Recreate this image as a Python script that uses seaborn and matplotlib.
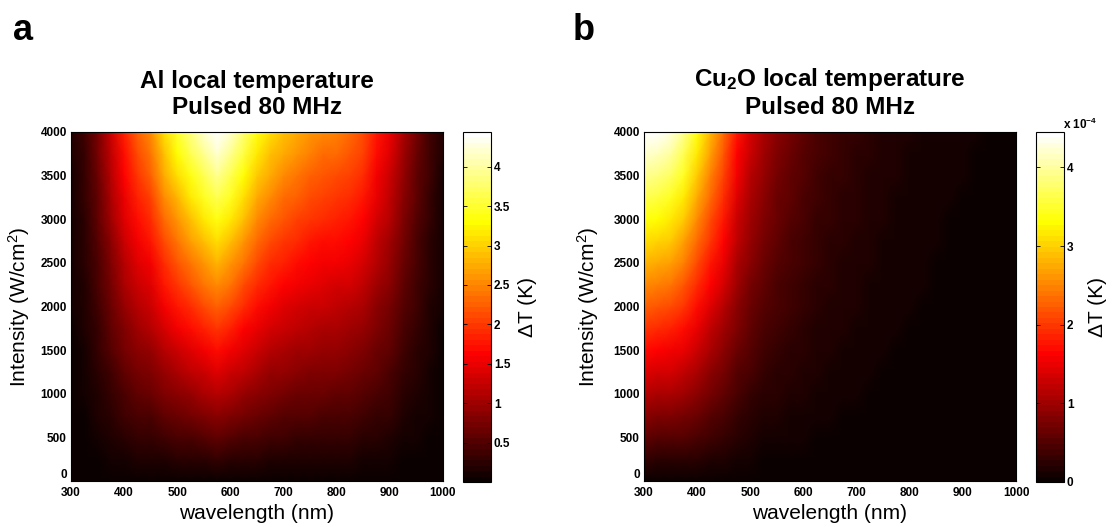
import numpy as np
import pandas as pd
import matplotlib
matplotlib.use("Agg")
import matplotlib.pyplot as plt
import seaborn as sns

# ---------------- data ----------------
wavelength_nm = [300, 325, 350, 375, 400, 425, 450, 475, 500, 525, 550, 575, 600,
                 625, 650, 675, 700, 725, 750, 775, 800, 825, 850, 875, 900, 925,
                 950, 975, 1000]
intensity_wcm2 = [0, 250, 500, 750, 1000, 1250, 1500, 1750, 2000, 2250, 2500,
                  2750, 3000, 3250, 3500, 3750, 4000]
# local temperature rise at the top intensity (4000 W/cm^2), K
al_dT_at_4000 = [0.15, 0.35, 0.75, 1.3, 1.85, 2.25, 2.55, 3.1, 3.5, 3.85, 4.2, 4.44,
                 4.2, 3.8, 3.35, 3.1, 2.9, 2.75, 2.6, 2.5, 2.45, 2.35, 2.15, 1.8,
                 1.5, 1.1, 0.7, 0.4, 0.15]
# Cu2O, in units of 1e-4 K
cu2o_dT_at_4000 = [4.45, 4.42, 4.25, 3.9, 3.35, 2.85, 2.35, 1.75, 1.35, 1.05, 0.85,
                   0.7, 0.56, 0.46, 0.39, 0.33, 0.28, 0.23, 0.2, 0.17, 0.145, 0.125,
                   0.105, 0.092, 0.081, 0.072, 0.064, 0.058, 0.053]
x_tick_nm = [300, 400, 500, 600, 700, 800, 900, 1000]
y_tick_int = [0, 500, 1000, 1500, 2000, 2500, 3000, 3500, 4000]
al_cbar_ticks = [0.5, 1, 1.5, 2, 2.5, 3, 3.5, 4]
al_cbar_labels = ["0.5", "1", "1.5", "2", "2.5", "3", "3.5", "4"]
cu2o_cbar_ticks = [0, 1, 2, 3, 4]
cu2o_cbar_labels = ["0", "1", "2", "3", "4"]
al_range = (0.0, 4.44)
cu2o_range = (0.0, 4.45)
titles = ["Al local temperature\nPulsed 80 MHz",
          r"Cu$_{\mathbf{2}}$O local temperature" + "\nPulsed 80 MHz"]
panel_letters = ["a", "b"]

# ---------------- style ----------------
plt.rcParams["font.family"] = ["Liberation Sans", "DejaVu Sans"]
plt.rcParams["mathtext.fontset"] = "custom"
plt.rcParams["mathtext.rm"] = "Liberation Sans"
plt.rcParams["mathtext.bf"] = "Liberation Sans:bold"
plt.rcParams["mathtext.it"] = "Liberation Sans:italic"

W, H = 1115, 527
fig = plt.figure(figsize=(W / 100, H / 100), dpi=100)


def fbox(x0, y0, x1, y1):
    return [x0 / W, 1 - y1 / H, (x1 - x0) / W, (y1 - y0) / H]


cmap = matplotlib.colormaps["hot"].resampled(64)
inten = np.asarray(intensity_wcm2, dtype=float)


def panel(ax_box, cax_box, profile, vrange, title, cticks, clabels, ylab_x, clab_x):
    ax = fig.add_axes(fbox(*ax_box))
    cax = fig.add_axes(fbox(*cax_box))
    df = pd.DataFrame(np.outer(inten / inten.max(), np.asarray(profile)),
                      index=intensity_wcm2, columns=wavelength_nm)
    sns.heatmap(df, ax=ax, cbar_ax=cax, cmap=cmap, vmin=vrange[0], vmax=vrange[1],
                xticklabels=False, yticklabels=False, shading="gouraud")
    nr, nc = df.shape
    ax.set_xlim(0, nc - 1)
    ax.set_ylim(0, nr - 1)
    ax.set_xticks([wavelength_nm.index(v) for v in x_tick_nm])
    ax.set_xticklabels([str(v) for v in x_tick_nm], fontweight="bold")
    ax.set_yticks([intensity_wcm2.index(v) for v in y_tick_int])
    ax.set_yticklabels([str(v) for v in y_tick_int], fontweight="bold")
    ax.tick_params(length=0, labelsize=8.5)
    ax.tick_params(axis="x", pad=4)
    ax.tick_params(axis="y", pad=3)
    ax.get_yticklabels()[0].set_verticalalignment("bottom")
    for s in ax.spines.values():
        s.set_visible(True)
        s.set_color("black")
        s.set_linewidth(0.8)
    ax.set_xlabel("wavelength (nm)", fontsize=15)
    ax.xaxis.set_label_coords(0.5, -0.065)
    ax.set_ylabel(r"Intensity (W/cm$^2$)", fontsize=15)
    ax.yaxis.set_label_coords(ylab_x, 0.5)
    ax.set_title(title, fontsize=17.5, fontweight="bold", pad=13, linespacing=1.15)

    cb = ax.collections[0].colorbar
    cb.outline.set_linewidth(0.8)
    cb.outline.set_edgecolor("black")
    cb.set_ticks(cticks, labels=clabels)
    cax.tick_params(axis="y", direction="in", length=3, width=0.6, left=True,
                    right=True, labelsize=8.5, pad=2)
    for t in cax.get_yticklabels():
        t.set_fontweight("bold")
    cax.text(clab_x, 0.5, "ΔT (K)", transform=cax.transAxes, rotation=90,
             ha="center", va="center", fontsize=15)
    return ax, cax


panel((71, 132, 443, 481), (463, 132, 491, 482), al_dT_at_4000, al_range,
      titles[0], al_cbar_ticks, al_cbar_labels, -0.105, 2.32)
panel((644, 132, 1016, 481), (1036, 132, 1064, 482), cu2o_dT_at_4000, cu2o_range,
      titles[1], cu2o_cbar_ticks, cu2o_cbar_labels, -0.115, 2.2)

fig.text(1063 / W, 1 - 129 / H, r"x 10$^{\mathbf{-4}}$", fontsize=8.5,
         fontweight="bold", ha="left", va="baseline")
fig.text(13 / W, 1 - 40 / H, panel_letters[0], fontsize=26, fontweight="bold",
         va="baseline", ha="left")
fig.text(573 / W, 1 - 40 / H, panel_letters[1], fontsize=26, fontweight="bold",
         va="baseline", ha="left")

fig.savefig("out.png", dpi=100, facecolor="white")
